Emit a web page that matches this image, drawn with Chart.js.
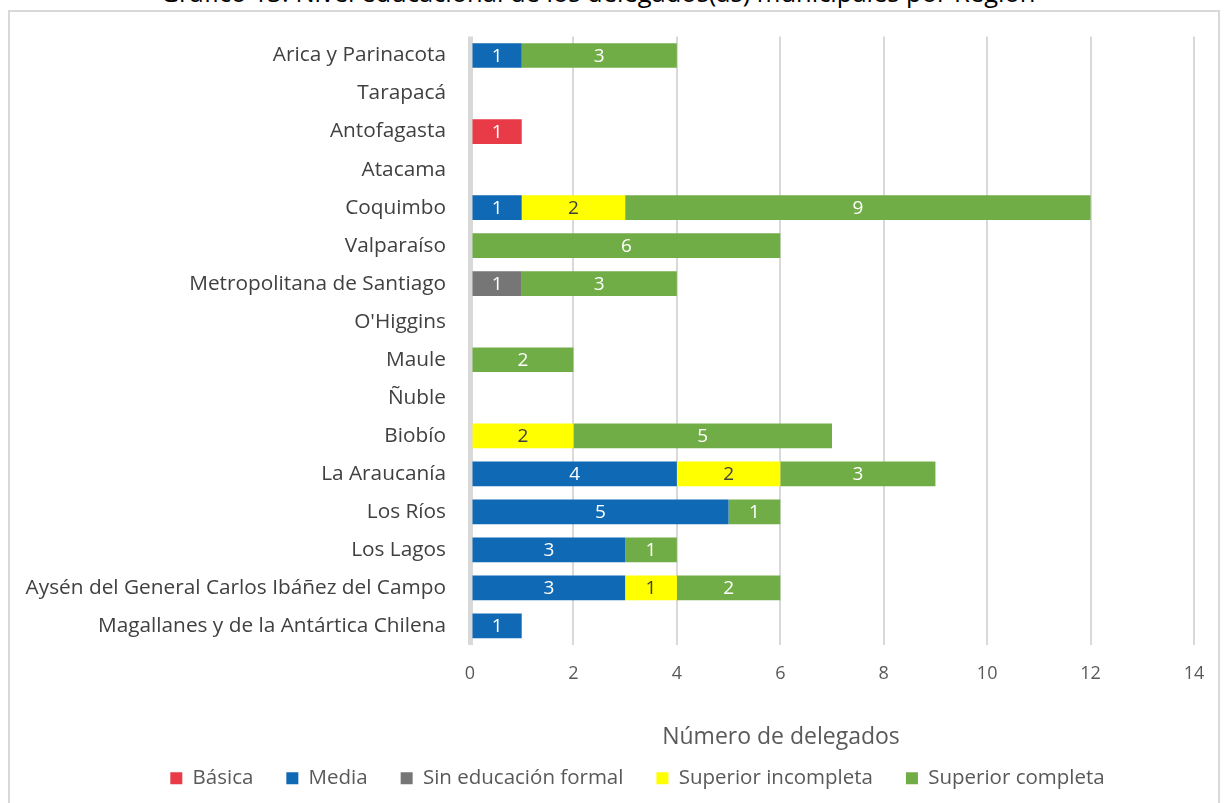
<!DOCTYPE html>
<html>
<head>
<meta charset="utf-8">
<script src="https://cdn.jsdelivr.net/npm/chart.js@4.4.1/dist/chart.umd.min.js"></script>
<style>
  html, body { margin: 0; padding: 0; background: #fff; overflow: hidden; }
  #wrap { position: relative; width: 1225px; height: 803px; }
  #frame { position: absolute; left: 8px; top: 10px; width: 1212px; height: 800px; border: 2px solid #d9d9d9; box-sizing: border-box; }
  #title { position: absolute; left: 0; width: 1196px; top: -20px; text-align: center; font-family: "Open Sans", sans-serif; font-size: 25.5px; line-height: 25px; color: #000; white-space: nowrap; }
  canvas { position: absolute; left: 0; top: 0; }
</style>
</head>
<body>
<div id="wrap">
  <div id="title">Gráfico 13: Nivel educacional de los delegados(as) municipales por Región</div>
  <div id="frame"></div>
  <canvas id="chart" width="1225" height="803"></canvas>
</div>
<script>
const regiones = ["Arica y Parinacota", "Tarapacá", "Antofagasta", "Atacama", "Coquimbo", "Valparaíso",
  "Metropolitana de Santiago", "O'Higgins", "Maule", "Ñuble", "Biobío", "La Araucanía", "Los Ríos",
  "Los Lagos", "Aysén del General Carlos Ibáñez del Campo", "Magallanes y de la Antártica Chilena"];

const basica          = [0, 0, 1, 0, 0, 0, 0, 0, 0, 0, 0, 0, 0, 0, 0, 0];
const media           = [1, 0, 0, 0, 1, 0, 0, 0, 0, 0, 0, 4, 5, 3, 3, 1];
const sinEducacion    = [0, 0, 0, 0, 0, 0, 1, 0, 0, 0, 0, 0, 0, 0, 0, 0];
const supIncompleta   = [0, 0, 0, 0, 2, 0, 0, 0, 0, 0, 2, 2, 0, 0, 1, 0];
const supCompleta     = [3, 0, 0, 0, 9, 6, 3, 0, 2, 0, 5, 3, 1, 1, 2, 0];

const xTicks = [0, 2, 4, 6, 8, 10, 12, 14];
const xTitle = "Número de delegados";

const FONT = "'Open Sans', sans-serif";

// labels in the middle of each bar segment
const barLabels = {
  id: 'barLabels',
  afterDatasetsDraw(chart) {
    const ctx = chart.ctx;
    ctx.save();
    ctx.font = "19px " + FONT;
    ctx.textAlign = 'center';
    ctx.textBaseline = 'middle';
    chart.data.datasets.forEach((ds, i) => {
      const meta = chart.getDatasetMeta(i);
      meta.data.forEach((bar, j) => {
        const v = ds.data[j];
        if (!v) return;
        ctx.fillStyle = ds.labelColor;
        ctx.fillText(v, (bar.x + bar.base) / 2, bar.y + 1);
      });
    });
    ctx.restore();
  }
};

// axis title sits left of the plot centre in the original, so draw it here
const axisTitle = {
  id: 'axisTitle',
  afterDraw(chart) {
    const ctx = chart.ctx;
    ctx.save();
    ctx.font = "23px " + FONT;
    ctx.fillStyle = "#595959";
    ctx.textAlign = 'center';
    ctx.textBaseline = 'middle';
    ctx.fillText(xTitle, 781, 737);
    ctx.restore();
  }
};

// legend takes no room in the layout, placed by hand afterwards
const legendPlace = {
  id: 'legendPlace',
  afterInit(chart) {
    const lg = chart.legend;
    const fit = lg.fit.bind(lg);
    lg.fit = function () { fit(); this.height = 0; };
  },
  afterLayout(chart) {
    const lg = chart.legend;
    lg.left = 0; lg.right = 1275; lg.width = 1275;
    lg.top = 735; lg.bottom = 803;
  }
};

new Chart("chart", {
  type: "bar",
  data: {
    labels: regiones,
    datasets: [
      { label: "Básica", data: basica, backgroundColor: "#e83a47", labelColor: "#ffffff" },
      { label: "Media", data: media, backgroundColor: "#0f69b4", labelColor: "#ffffff" },
      { label: "Sin educación formal", data: sinEducacion, backgroundColor: "#767676", labelColor: "#ffffff" },
      { label: "Superior incompleta", data: supIncompleta, backgroundColor: "#ffff00", labelColor: "#404040" },
      { label: "Superior completa", data: supCompleta, backgroundColor: "#70ad47", labelColor: "#ffffff" }
    ]
  },
  options: {
    indexAxis: 'y',
    responsive: false,
    animation: false,
    layout: { padding: { left: 0, right: 31, top: 36, bottom: 40 } },
    datasets: { bar: { categoryPercentage: 1, barPercentage: 0.65 } },
    scales: {
      x: {
        stacked: true,
        min: 0, max: 14,
        afterBuildTicks(scale) { scale.ticks = xTicks.map(v => ({ value: v })); },
        afterFit(scale) { scale.height = 118; },
        border: { display: false },
        grid: {
          drawTicks: false,
          color: "#d9d9d9",
          lineWidth: ctx => ctx.tick && ctx.tick.value === 0 ? 5 : 2
        },
        ticks: { padding: 18, color: "#595959", font: { family: FONT, size: 18 } }
      },
      y: {
        stacked: true,
        afterFit(scale) { scale.width = 470; },
        border: { display: false },
        grid: { display: false, drawTicks: false },
        ticks: { padding: 24, color: "#404040", font: { family: FONT, size: 20.8 } }
      }
    },
    plugins: {
      legend: {
        position: 'bottom',
        labels: {
          boxWidth: 12, boxHeight: 12, padding: 33,
          color: "#595959", font: { family: FONT, size: 20.5 }
        }
      },
      tooltip: { enabled: false }
    }
  },
  plugins: [barLabels, axisTitle, legendPlace]
});
</script>
</body>
</html>
